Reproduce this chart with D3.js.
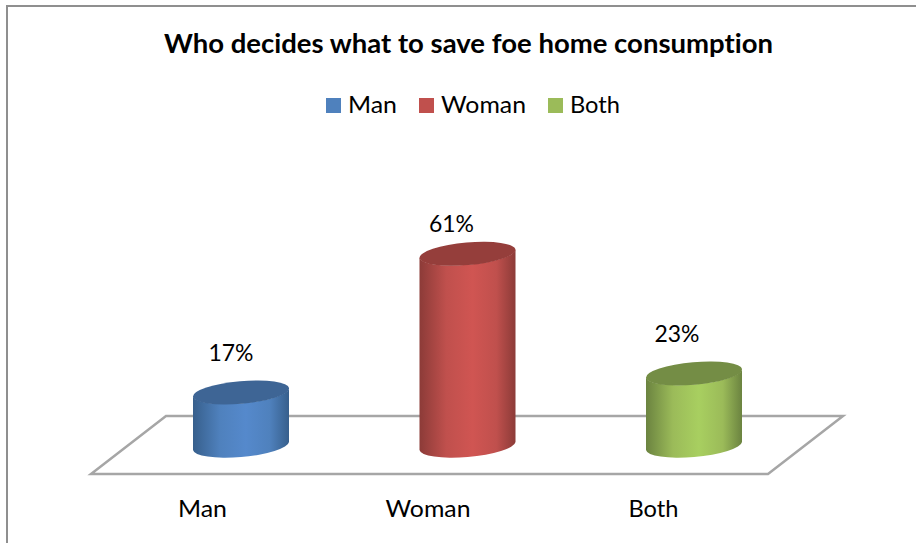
<!DOCTYPE html>
<html>
<head>
<meta charset="utf-8">
<script src="https://cdn.jsdelivr.net/npm/d3@7/dist/d3.min.js"></script>
<style>html,body{margin:0;padding:0;background:#fff;overflow:hidden}svg{display:block}text{fill:#000;font-family:Lato,sans-serif;font-variant-ligatures:none}</style>
</head>
<body>
<script>
const titleText = "Who decides what to save foe home consumption";
const categories = ["Man", "Woman", "Both"];
const values = [0.17, 0.61, 0.23];
const colors = ["#4f81bd", "#c0504d", "#9bbb59"];
const centerColors = ["#5589cc", "#d05552", "#a8cf60"];
const edgeColors = ["#375f8c", "#8c3b38", "#6b8340"];
const topColors = ["#3e6595", "#953e3b", "#748d45"];
const labelLift = [39, 30, 40];
const labelShift = [-10, -16, -17];
const catShift = [-38.5, -39.5, -40.5];

const W = 916, H = 543;
const svg = d3.select("body").append("svg").attr("width", W).attr("height", H);
const defs = svg.append("defs");

const x = d3.scalePoint().domain(categories).range([241, 694]);
const y = d3.scaleLinear().domain([0, 1]).range([446, 131]);

// chart frame (runs off the top-right of the crop)
svg.append("path").attr("d", `M7,${H}V6H${W}`).attr("fill", "none").attr("stroke", "#8f8f8f").attr("stroke-width", 2);

// title
svg.append("text").attr("x", 468.5).attr("y", 53).attr("text-anchor", "middle")
  .attr("font-size", 26).attr("font-weight", 700).attr("textLength", 609).attr("lengthAdjust", "spacingAndGlyphs").text(titleText);

// legend
const legendSwatch = [326, 419, 548];
const legendWidth = [49, 85, 50];
const legend = svg.append("g").selectAll("g").data(categories).join("g");
legend.append("rect").attr("x", (d, i) => legendSwatch[i]).attr("y", 98).attr("width", 15).attr("height", 15).attr("fill", (d, i) => colors[i]);
legend.append("text").attr("x", (d, i) => legendSwatch[i] + 22).attr("y", 113).attr("font-size", 24)
  .attr("textLength", (d, i) => legendWidth[i]).attr("lengthAdjust", "spacingAndGlyphs").text(d => d);

// floor
const fx = [91, 768, 843, 166], fy = [474, 474, 416, 416];
svg.append("path").attr("d", d3.line()(fx.map((v, i) => [v, fy[i]])) + "Z")
  .attr("fill", "#fff").attr("stroke", "#a6a6a6").attr("stroke-width", 2.5).attr("stroke-linejoin", "miter");

// cylinders
const a = 48.2, b = 11.3, rot = -5, dx = 48, dy = 4;
categories.forEach((c, i) => {
  const g = defs.append("linearGradient").attr("id", "g" + i).attr("x1", 0).attr("x2", 1).attr("y1", 0).attr("y2", 0);
  [[0, edgeColors[i]], [0.28, colors[i]], [0.55, centerColors[i]], [0.8, colors[i]], [1, edgeColors[i]]]
    .forEach(s => g.append("stop").attr("offset", s[0]).attr("stop-color", s[1]));
});
const bars = svg.append("g").selectAll("g").data(categories).join("g");
bars.append("path").attr("fill", (d, i) => `url(#g${i})`).attr("d", (d, i) => {
  const cx = x(d), yb = y(0), yt = y(values[i]);
  return `M${cx - dx},${yt + dy}L${cx - dx},${yb + dy}A${a},${b} ${rot} 0 0 ${cx + dx},${yb - dy}L${cx + dx},${yt - dy}A${a},${b} ${rot} 0 1 ${cx - dx},${yt + dy}Z`;
});
bars.append("ellipse").attr("rx", a).attr("ry", b).attr("fill", (d, i) => topColors[i])
  .attr("transform", (d, i) => `translate(${x(d)},${y(values[i])}) rotate(${rot})`);

// value labels
svg.append("g").selectAll("text").data(values).join("text")
  .attr("x", (d, i) => x(categories[i]) + labelShift[i])
  .attr("y", (d, i) => y(d) - labelLift[i] + 8)
  .attr("text-anchor", "middle").attr("font-size", 24).attr("textLength", 45).attr("lengthAdjust", "spacingAndGlyphs")
  .text(d => d3.format(".0%")(d));

// category labels
const catWidth = [49, 85, 50];
svg.append("g").selectAll("text").data(categories).join("text")
  .attr("x", (d, i) => x(d) + catShift[i]).attr("y", 517).attr("text-anchor", "middle").attr("font-size", 24)
  .attr("textLength", (d, i) => catWidth[i]).attr("lengthAdjust", "spacingAndGlyphs").text(d => d);
</script>
</body>
</html>
